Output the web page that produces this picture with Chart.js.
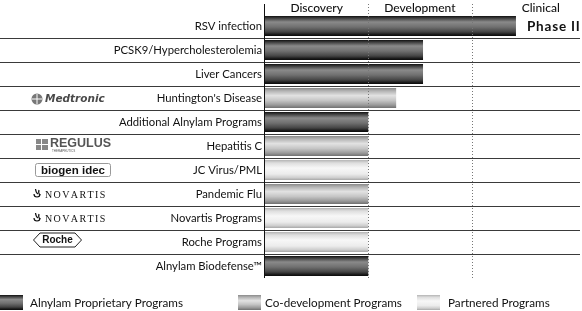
<!DOCTYPE html>
<html>
<head>
<meta charset="utf-8">
<script src="https://cdn.jsdelivr.net/npm/chart.js@4.4.1/dist/chart.umd.min.js"></script>
<style>
html, body { margin: 0; padding: 0; background: #fff; }
#wrap { width: 582px; height: 311px; position: relative; }
</style>
</head>
<body>
<div id="wrap"><canvas id="myChart"></canvas></div>
<script>
// programs and how far each one got (1 unit = one phase)
const programs = [
  'RSV infection',
  'PCSK9/Hypercholesterolemia',
  'Liver Cancers',
  "Huntington's Disease",
  'Additional Alnylam Programs',
  'Hepatitis C',
  'JC Virus/PML',
  'Pandemic Flu',
  'Novartis Programs',
  'Roche Programs',
  'Alnylam Biodefense™'
];
const progress = [2.43, 1.53, 1.53, 1.27, 1, 1, 1, 1, 1, 1, 1];
const programType = ['own', 'own', 'own', 'codev', 'own', 'codev', 'partner', 'codev', 'partner', 'partner', 'own'];
const partners = ['', '', '', 'Medtronic', '', 'REGULUS', 'biogen idec', 'NOVARTIS', 'NOVARTIS', 'Roche', ''];
const stageNotes = ['Phase II', '', '', '', '', '', '', '', '', '', ''];
const phases = ['Discovery', 'Development', 'Clinical'];
const phaseBounds = [1, 2];
const legendLabels = ['Alnylam Proprietary Programs', 'Co-development Programs', 'Partnered Programs'];
const legendTypes = ['own', 'codev', 'partner'];

const FONT = 'Lato, "Open Sans", sans-serif';

const fills = {
  own: [[0, '#111'], [0.1, '#3c3c3c'], [0.3, '#8a8a8a'], [0.55, '#707070'], [0.8, '#444'], [0.92, '#1c1c1c'], [1, '#0a0a0a']],
  codev: [[0, '#8a8a8a'], [0.15, '#b4b4b4'], [0.38, '#e2e2e2'], [0.62, '#c6c6c6'], [0.85, '#9a9a9a'], [1, '#707070']],
  partner: [[0, '#b4b4b4'], [0.15, '#dedede'], [0.4, '#f7f7f7'], [0.7, '#ececec'], [0.88, '#cfcfcf'], [1, '#a8a8a8']]
};

function grad(c, top, bottom, type) {
  const g = c.createLinearGradient(0, top, 0, bottom);
  fills[type].forEach(s => g.addColorStop(s[0], s[1]));
  return g;
}

function barFill(context) {
  const chart = context.chart;
  const y = chart.scales.y;
  const fallback = fills[programType[context.dataIndex] || 'own'][3][1];
  if (!y || context.dataIndex === undefined) return fallback;
  const cy = y.getPixelForValue(context.dataIndex);
  if (!isFinite(cy)) return fallback;
  return grad(chart.ctx, cy - 10, cy + 10, programType[context.dataIndex]);
}

function drawLogo(c, name, cy) {
  c.save();
  c.textBaseline = 'middle';
  if (name === 'Medtronic') {
    c.fillStyle = '#777';
    c.beginPath(); c.arc(37, cy + 1, 5.5, 0, Math.PI * 2); c.fill();
    c.strokeStyle = '#fff'; c.lineWidth = 1;
    c.beginPath(); c.moveTo(37, cy - 4); c.lineTo(37, cy + 6); c.moveTo(32, cy + 1); c.lineTo(42, cy + 1); c.stroke();
    c.fillStyle = '#4a4a4a';
    c.font = 'italic bold 10.5px "DejaVu Sans", sans-serif';
    c.textAlign = 'left';
    c.fillText('Medtronic', 45, cy + 1);
  } else if (name === 'REGULUS') {
    c.fillStyle = '#888';
    c.fillRect(36, cy - 7, 12, 11);
    c.fillStyle = '#fff';
    c.fillRect(41, cy - 7, 1, 11); c.fillRect(36, cy - 2, 12, 1);
    c.fillStyle = '#555';
    c.font = 'bold 12.5px "Liberation Sans", sans-serif';
    c.textAlign = 'left';
    c.fillText('REGULUS', 50, cy - 2);
    c.font = '3px "Liberation Sans", sans-serif';
    c.fillText('THERAPEUTICS', 52, cy + 5);
  } else if (name === 'biogen idec') {
    c.strokeStyle = '#999'; c.lineWidth = 1;
    c.beginPath();
    c.roundRect(35.5, cy - 6.5, 75, 13, 2);
    c.stroke();
    c.fillStyle = '#111';
    c.font = 'bold 11.5px "Liberation Sans", sans-serif';
    c.textAlign = 'center';
    c.fillText('biogen idec', 73, cy + 0.5);
  } else if (name === 'NOVARTIS') {
    c.strokeStyle = '#111'; c.lineWidth = 1.2;
    c.beginPath(); c.arc(37, cy, 3, 0, Math.PI); c.stroke();
    c.beginPath(); c.moveTo(35.5, cy - 5); c.quadraticCurveTo(36, cy - 1, 38, cy); c.stroke();
    c.beginPath(); c.moveTo(39, cy - 4); c.quadraticCurveTo(38, cy - 1, 40, cy + 1); c.stroke();
    c.fillStyle = '#111';
    c.font = '10px "Liberation Serif", serif';
    c.textAlign = 'left';
    let x = 45;
    for (const ch of 'NOVARTIS') {
      c.fillText(ch, x, cy + 1);
      x += c.measureText(ch).width + 1.4;
    }
  } else if (name === 'Roche') {
    const t = cy - 9, b = cy + 5, m = cy - 2;
    c.strokeStyle = '#222'; c.lineWidth = 1;
    c.beginPath();
    c.moveTo(33.5, m); c.lineTo(40, t); c.lineTo(75, t); c.lineTo(81.5, m); c.lineTo(75, b); c.lineTo(40, b); c.closePath();
    c.stroke();
    c.fillStyle = '#111';
    c.font = 'bold 10px "Liberation Sans", sans-serif';
    c.textAlign = 'center';
    c.fillText('Roche', 57.5, m + 0.5);
  }
  c.restore();
}

const decor = {
  id: 'decor',
  afterDatasetsDraw(chart) {
    const c = chart.ctx;
    const a = chart.chartArea;
    const x = chart.scales.x;
    const y = chart.scales.y;
    c.save();
    // phase boundaries
    c.strokeStyle = '#777';
    c.lineWidth = 1;
    c.setLineDash([1, 2]);
    phaseBounds.forEach(v => {
      const px = Math.round(x.getPixelForValue(v)) + 0.5;
      c.beginPath(); c.moveTo(px, 4); c.lineTo(px, a.bottom); c.stroke();
    });
    c.setLineDash([]);
    // row separators
    c.strokeStyle = '#3a3a3a';
    for (let i = 0; i < programs.length - 1; i++) {
      const py = Math.round((y.getPixelForValue(i) + y.getPixelForValue(i + 1)) / 2) + 0.5;
      c.beginPath(); c.moveTo(0, py); c.lineTo(a.right, py); c.stroke();
    }
    // axis line
    c.strokeStyle = '#111';
    c.beginPath(); c.moveTo(a.left - 0.5, 4); c.lineTo(a.left - 0.5, a.bottom); c.stroke();
    // phase headers
    c.fillStyle = '#111';
    c.font = '500 12px ' + FONT;
    c.textAlign = 'center';
    c.textBaseline = 'middle';
    const centers = [0.5, 1.5, 2.67];
    phases.forEach((p, i) => c.fillText(p, x.getPixelForValue(centers[i]), 8));
    // stage notes
    c.font = 'bold 13.5px ' + FONT;
    c.textAlign = 'left';
    if ('letterSpacing' in c) c.letterSpacing = '0.8px';
    stageNotes.forEach((n, i) => {
      if (n) c.fillText(n, x.getPixelForValue(progress[i]) + 11, y.getPixelForValue(i) + 1);
    });
    if ('letterSpacing' in c) c.letterSpacing = '0px';
    // partner logos
    partners.forEach((p, i) => { if (p) drawLogo(c, p, y.getPixelForValue(i)); });
    // legend
    const lx = [0, 238, 417];
    const tx = [30, 265, 448];
    legendLabels.forEach((l, i) => {
      c.fillStyle = grad(c, 295, 310, legendTypes[i]);
      c.fillRect(lx[i], 295, 23, 15);
      c.fillStyle = '#111';
      c.font = '11.7px ' + FONT;
      c.textAlign = 'left';
      c.fillText(l, tx[i], 303);
    });
    c.restore();
  }
};

const data = {
  labels: programs,
  datasets: [{
    data: progress,
    backgroundColor: barFill,
    borderWidth: 0,
    barPercentage: 0.84,
    categoryPercentage: 1
  }]
};

const config = {
  type: 'bar',
  data: data,
  options: {
    indexAxis: 'y',
    responsive: true,
    maintainAspectRatio: false,
    animation: false,
    layout: { padding: { top: 14, bottom: 33, left: 0, right: 2 } },
    plugins: { legend: { display: false }, tooltip: { enabled: false } },
    scales: {
      x: { display: false, min: 0, max: 3.05 },
      y: {
        afterFit: s => { s.width = 265; },
        grid: { display: false, drawTicks: false },
        border: { display: false },
        ticks: { color: '#111', padding: 3, font: { family: FONT, size: 11.3 } }
      }
    }
  },
  plugins: [decor]
};

const myChart = new Chart(document.getElementById('myChart'), config);
</script>
</body>
</html>
